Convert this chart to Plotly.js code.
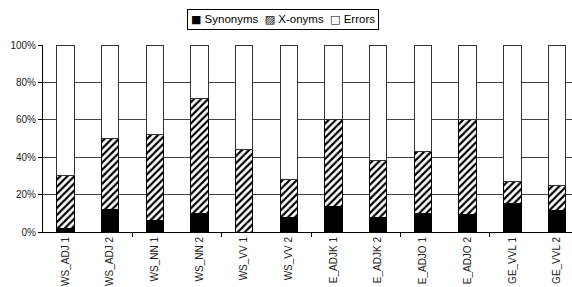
<!DOCTYPE html>
<html>
<head>
<meta charset="utf-8">
<script src="https://cdn.plot.ly/plotly-3.0.1.min.js"></script>
<style>html,body{margin:0;padding:0;background:#fff;overflow:hidden;}</style>
</head>
<body>
<div id="chart" style="width:572px;height:287px;"></div>
<script>
var categories = ["WS_ADJ 1","WS_ADJ 2","WS_NN 1","WS_NN 2","WS_VV 1","WS_VV 2","E_ADJK 1","E_ADJK 2","E_ADJO 1","E_ADJO 2","GE_VVL 1","GE_VVL 2"];
var seriesNames = ["Synonyms", "X-onyms", "Errors"];
var legendGlyphs = ["\u25A0", "\u25A8", "\u25A1"];
var synonyms = [2, 12, 6, 10, 0, 8, 13.6, 8, 10, 9.3, 15, 11.5];
var xonyms   = [28, 38, 46, 61.5, 44, 20, 46.4, 30.5, 33, 50.7, 12, 13.5];
var errors   = synonyms.map(function(s, i){ return 100 - s - xonyms[i]; });
var yTicks = [0, 20, 40, 60, 80, 100];
var yTickText = ["0%","20%","40%","60%","80%","100%"];
var boundaryTicks = [1.5, 3.5, 5.5, 7.5, 9.5];

var idx = categories.map(function(c, i){ return i; });
var font = {family: "Liberation Sans, Arial, sans-serif", size: 10, color: "#222"};

var traces = [
  {type: "bar", name: seriesNames[0], x: idx, y: synonyms,
   marker: {color: "#000", line: {color: "#000", width: 1}}},
  {type: "bar", name: seriesNames[1], x: idx, y: xonyms,
   marker: {color: "#fff", line: {color: "#000", width: 1},
            pattern: {shape: "/", fgcolor: "#000", bgcolor: "#fff", size: 5, solidity: 0.45}}},
  {type: "bar", name: seriesNames[2], x: idx, y: errors,
   marker: {color: "#fff", line: {color: "#333", width: 1}}},
  {type: "scatter", x: boundaryTicks, y: boundaryTicks.map(function(){return 0;}),
   xaxis: "x2", mode: "markers", marker: {opacity: 0}, showlegend: false, hoverinfo: "skip"}
];

var sep = "\u00a0\u00a0";
var legendText = seriesNames.map(function(n, i){
  return '<span style="font-family:DejaVu Sans;font-size:11px">' + legendGlyphs[i] + '</span>\u00a0' + n;
}).join(sep);

var layout = {
  width: 572, height: 287,
  margin: {l: 43, r: 0, t: 45, b: 55},
  paper_bgcolor: "#fff", plot_bgcolor: "#fff",
  font: font,
  barmode: "stack",
  bargap: 0.61,
  showlegend: false,
  annotations: [{
    xref: "paper", yref: "paper", x: 0.454, y: 1.136, xanchor: "center", yanchor: "middle",
    text: legendText, showarrow: false,
    font: {family: "Liberation Sans, Arial, sans-serif", size: 11.5, color: "#000"},
    bordercolor: "#000", borderwidth: 1, borderpad: 3, bgcolor: "#fff"
  }],
  xaxis: {type: "linear", range: [-0.5, 11.335], tickvals: idx, ticktext: categories,
          tickangle: -90, ticks: "", showgrid: false, zeroline: false,
          showline: true, linecolor: "#000", linewidth: 1,
          tickfont: font, fixedrange: true},
  xaxis2: {type: "linear", overlaying: "x", range: [-0.5, 11.335], tickvals: boundaryTicks,
           ticks: "outside", ticklen: 4, tickcolor: "#000", showticklabels: false,
           showgrid: false, zeroline: false, showline: false, side: "bottom", anchor: "y"},
  yaxis: {range: [0, 100], tickvals: yTicks, ticktext: yTickText,
          ticks: "outside", ticklen: 4, tickcolor: "#000",
          showgrid: true, gridcolor: "#444", gridwidth: 1,
          zeroline: false, showline: true, linecolor: "#000", linewidth: 1,
          tickfont: font, fixedrange: true}
};

Plotly.newPlot("chart", traces, layout, {displayModeBar: false, staticPlot: true});
</script>
</body>
</html>
